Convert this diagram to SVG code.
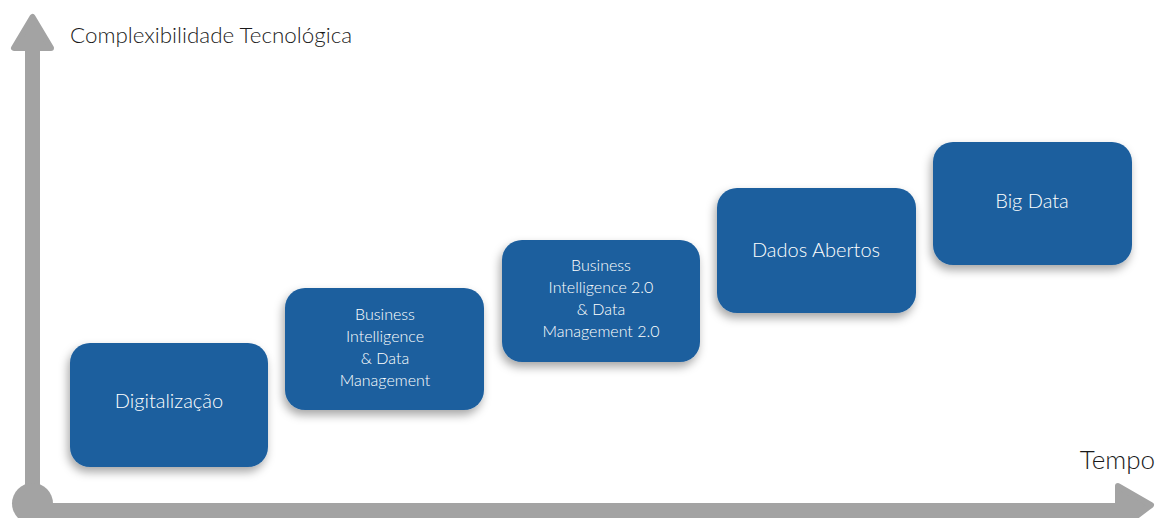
<svg xmlns="http://www.w3.org/2000/svg" width="1157" height="518" viewBox="0 0 1157 518">
  <defs>
    <filter id="shadow" x="-20%" y="-20%" width="140%" height="150%">
      <feDropShadow dx="-2" dy="5" stdDeviation="5" flood-color="#000" flood-opacity="0.35"/>
    </filter>
    <style>
      .box { fill: #1c5e9e; filter: url(#shadow); }
      .lbl { fill: #ffffff; font-family: Lato, "Open Sans", "Liberation Sans", sans-serif; font-weight: 300; text-anchor: middle; }
      .big { font-size: 20px; }
      .small { font-size: 16px; }
      .axis { fill: #a3a3a3; stroke: #a3a3a3; stroke-linejoin: round; }
      .axtitle { fill: #1a1a1a; font-family: Lato, "Open Sans", "Liberation Sans", sans-serif; font-weight: 300; }
    </style>
  </defs>
  <rect width="1157" height="518" fill="#ffffff"/>

  <!-- axes -->
  <g id="axes">
    <rect class="axis" x="25" y="45" width="15" height="460" stroke-width="0"/>
    <polygon class="axis" points="32.5,17 14,48 51,48" stroke-width="6"/>
    <circle class="axis" cx="32.5" cy="503.5" r="20.5" stroke-width="0"/>
    <rect class="axis" x="32" y="503" width="1090" height="16" stroke-width="0"/>
    <polygon class="axis" points="1118,486 1151,505 1118,530" stroke-width="6"/>
    <text class="axtitle" x="70" y="43" font-size="22.4">Complexibilidade Tecnológica</text>
    <text class="axtitle" x="1155" y="469" font-size="26" text-anchor="end">Tempo</text>
  </g>

  <g id="node-digitalizacao">
    <rect class="box" x="70" y="343" width="198" height="124" rx="20"/>
    <text class="lbl big" x="169" y="408">Digitalização</text>
  </g>

  <g id="node-bi">
    <rect class="box" x="285" y="288" width="199" height="122" rx="20"/>
    <text class="lbl small" x="385" y="320">Business</text>
    <text class="lbl small" x="385" y="342">Intelligence</text>
    <text class="lbl small" x="385" y="364">&amp; Data</text>
    <text class="lbl small" x="385" y="386">Management</text>
  </g>

  <g id="node-bi2">
    <rect class="box" x="502" y="240" width="198" height="122" rx="20"/>
    <text class="lbl small" x="601" y="271">Business</text>
    <text class="lbl small" x="601" y="293">Intelligence 2.0</text>
    <text class="lbl small" x="601" y="315">&amp; Data</text>
    <text class="lbl small" x="601" y="337">Management 2.0</text>
  </g>

  <g id="node-dados-abertos">
    <rect class="box" x="717" y="188" width="199" height="125" rx="20"/>
    <text class="lbl big" x="816" y="257">Dados Abertos</text>
  </g>

  <g id="node-big-data">
    <rect class="box" x="933" y="142" width="199" height="123" rx="20"/>
    <text class="lbl big" x="1032" y="208">Big Data</text>
  </g>

  <g id="connectors"></g>
</svg>
